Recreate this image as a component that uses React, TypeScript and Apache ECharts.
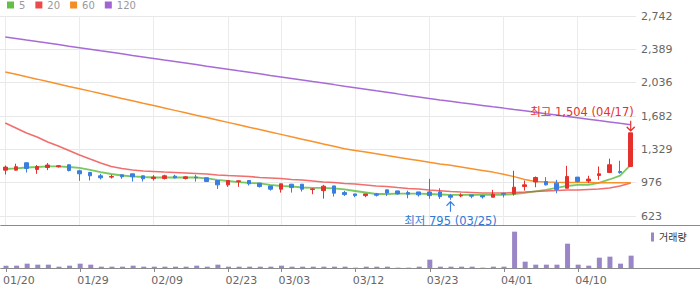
import { useEffect, useRef } from 'react';
import * as echarts from 'echarts';

const dates = ['01/20','01/21','01/22','01/23','01/26','01/27','01/28','01/29','01/30','02/02','02/03','02/04','02/05','02/06','02/09','02/10','02/11','02/12','02/13','02/19','02/20','02/23','02/24','02/25','02/26','02/27','03/03','03/04','03/05','03/06','03/09','03/10','03/11','03/12','03/13','03/16','03/17','03/18','03/19','03/20','03/23','03/24','03/25','03/26','03/27','03/30','03/31','04/01','04/02','04/03','04/06','04/07','04/08','04/09','04/10','04/13','04/14','04/15','04/16','04/17'];
const tickDates = ['01/20','01/29','02/09','02/23','03/03','03/12','03/23','04/01','04/10'];
const yTickLabels = ['623','976','1,329','1,682','2,036','2,389','2,742'];

const opens = [1109,1109,1187,1116,1137,1145,1166,1102,1084,1049,1035,1060,1070,1049,1020,1020,1045,1020,1035,1028,999,953,988,999,971,942,907,960,960,903,892,942,871,857,839,857,900,889,871,878,878,878,839,836,846,839,822,864,857,935,984,988,971,917,1035,994,1052,1084,1095,1148];
const closes = [1141,1145,1127,1148,1163,1155,1105,1070,1049,1028,1042,1038,1038,1017,1035,1049,1028,1038,1028,988,953,999,996,964,935,907,964,924,907,910,939,865,850,839,857,843,868,857,854,847,839,828,822,843,833,825,854,854,928,953,1031,953,903,1042,988,1014,1070,1166,1084,1504];
const lows = [1063,1105,1084,1070,1109,1137,1095,996,999,1010,1020,1017,988,988,999,1010,1020,1010,988,985,910,932,932,946,924,892,871,871,882,854,807,829,835,822,822,829,836,850,811,829,805,804,795,822,811,808,822,820,839,892,928,946,864,917,978,971,1006,1084,1070,1148];
const highs = [1158,1177,1190,1163,1184,1163,1168,1113,1091,1070,1060,1060,1070,1049,1056,1060,1060,1045,1060,1028,999,1003,996,999,971,942,964,960,960,917,953,942,889,857,857,868,900,889,892,878,1017,917,857,864,846,839,900,868,1102,999,1042,1035,1006,1155,1035,1049,1148,1230,1209,1504];
const volumes = [70,70,130,100,100,40,70,130,100,40,40,40,70,40,40,40,40,40,70,40,100,40,40,40,40,40,70,40,40,40,40,40,40,10,40,40,40,10,10,40,250,40,40,40,40,10,40,40,1090,190,100,100,100,730,100,70,310,340,130,370];

const ma5 = [1121,1127,1137,1142,1148,1148,1142,1132,1111,1089,1068,1052,1042,1036,1031,1031,1031,1031,1031,1021,1005,994,983,973,968,952,941,936,925,920,920,915,904,888,872,856,856,861,861,861,856,851,846,846,846,846,846,846,856,867,883,899,920,941,952,952,973,1010,1050,1164];
const ma20 = [1609,1556,1503,1460,1407,1365,1317,1270,1227,1185,1148,1127,1111,1100,1095,1089,1084,1079,1074,1068,1058,1052,1047,1042,1031,1026,1021,1010,1005,994,983,978,968,962,952,941,936,925,915,909,899,891,883,877,872,867,867,867,872,877,883,888,893,899,899,904,909,920,941,973];
const ma60 = [2149,2124,2098,2073,2047,2022,1996,1971,1946,1920,1895,1869,1844,1818,1793,1768,1742,1717,1691,1666,1640,1615,1590,1564,1539,1513,1488,1462,1437,1412,1386,1361,1336,1318,1300,1282,1264,1246,1228,1210,1192,1175,1160,1142,1124,1106,1088,1065,1040,1010,988,982,980,979,978,977,976,976,975,974];
const ma120 = [2520,2504,2487,2471,2455,2439,2422,2406,2390,2373,2357,2341,2324,2308,2292,2275,2259,2243,2227,2210,2194,2178,2161,2145,2129,2112,2096,2080,2064,2047,2031,2015,1998,1982,1966,1949,1933,1917,1900,1884,1868,1853,1839,1824,1810,1795,1780,1766,1751,1737,1722,1707,1693,1678,1664,1649,1634,1620,1605,1591];

const maNames = ['5', '20', '60', '120'];
const maColors = ['#62c044', '#ec4a4a', '#f78c22', '#a263d4'];
const UP = '#e6302c';
const DOWN = '#3a7fe0';
const VOL = '#9a86c6';
const FONT = '"DejaVu Sans", "Noto Sans CJK KR", sans-serif';

const Y_MIN = 623;
const Y_MAX = 2742;
const Y_STEP = (Y_MAX - Y_MIN) / 6;
const PAD_COUNT = 6;

export default function App() {
  const ref = useRef<HTMLDivElement>(null);
  useEffect(() => {
    if (!ref.current) return;
    const chart = echarts.init(ref.current, undefined, { renderer: 'svg' });
    const tickSet = new Set(tickDates);
    const volCats = dates.concat(Array.from({ length: PAD_COUNT }, (_, i) => `pad${i}`));
    const isTick = (_i: number, v: string) => tickSet.has(v);

    let maxIdx = 0;
    let minIdx = 0;
    highs.forEach((h, i) => { if (h > highs[maxIdx]) maxIdx = i; });
    lows.forEach((l, i) => { if (l < lows[minIdx]) minIdx = i; });
    const fmt = (n: number) => n.toLocaleString('en-US');

    const candleData = dates.map((_, i) => [opens[i], closes[i], lows[i], highs[i]]);
    const maData = [ma5, ma20, ma60, ma120];
    const maWidths = [1.8, 1.6, 1.5, 1.5];
    const maOpacity = [0.85, 0.8, 0.95, 0.95];

    chart.setOption({
      animation: false,
      backgroundColor: '#ffffff',
      textStyle: { fontFamily: FONT },
      legend: [
        {
          data: maNames,
          left: 7,
          top: 0,
          padding: 0,
          icon: 'rect',
          itemWidth: 7,
          itemHeight: 7,
          itemGap: 10,
          textStyle: { fontSize: 10, color: '#999', fontFamily: FONT },
        },
        {
          data: ['거래량'],
          left: 651,
          top: 232,
          padding: 0,
          icon: 'rect',
          itemWidth: 3,
          itemHeight: 9,
          textStyle: { fontSize: 10, color: '#333', fontFamily: FONT },
        },
      ],
      grid: [
        { left: 0, right: 64, top: 16, height: 200 },
        { left: 0, right: 0, top: 225, height: 43 },
        { left: 5.3, right: 69.3, top: 16, height: 209 },
      ],
      xAxis: [
        { type: 'category', gridIndex: 0, data: dates, boundaryGap: true, show: false },
        {
          type: 'category', gridIndex: 2, data: dates, boundaryGap: false,
          axisLine: { show: false }, axisTick: { show: false }, axisLabel: { show: false },
          splitLine: { show: true, interval: isTick, lineStyle: { color: '#ebebeb', width: 1 } },
        },
        {
          type: 'category', gridIndex: 1, data: volCats, boundaryGap: true, position: 'bottom',
          axisLine: { show: true, lineStyle: { color: '#8a8a8a', width: 1 } },
          axisTick: { show: true, alignWithLabel: true, interval: isTick, length: 4, lineStyle: { color: '#8a8a8a' } },
          axisLabel: {
            show: true, interval: isTick, color: '#666', fontSize: 11, margin: 7,
            align: 'left', padding: [0, 0, 0, -3], fontFamily: FONT,
          },
          splitLine: { show: false },
        },
        {
          type: 'category', gridIndex: 1, data: volCats, boundaryGap: true, position: 'top',
          axisLine: { show: true, lineStyle: { color: '#8a8a8a', width: 1 } },
          axisTick: { show: false }, axisLabel: { show: false }, splitLine: { show: false },
        },
      ],
      yAxis: [
        {
          type: 'value', gridIndex: 0, position: 'right', min: Y_MIN, max: Y_MAX, interval: Y_STEP,
          axisLine: { show: false }, axisTick: { show: false },
          axisLabel: {
            color: '#666', fontSize: 11, margin: 5, fontFamily: FONT,
            formatter: (v: number) => yTickLabels[Math.round((v - Y_MIN) / Y_STEP)] ?? '',
          },
          splitLine: { show: true, lineStyle: { color: '#e8e8e8', width: 1 } },
        },
        { type: 'value', gridIndex: 2, min: 0, max: 1, show: false },
        { type: 'value', gridIndex: 1, min: 0, max: 1290, show: false },
      ],
      series: [
        ...maNames.map((name, k) => ({
          name,
          type: 'line',
          xAxisIndex: 0,
          yAxisIndex: 0,
          data: maData[k],
          symbol: 'none',
          z: 2,
          itemStyle: { color: maColors[k] },
          lineStyle: { color: maColors[k], width: maWidths[k], opacity: maOpacity[k] },
        })),
        {
          name: 'candle',
          type: 'candlestick',
          xAxisIndex: 0,
          yAxisIndex: 0,
          data: candleData,
          barWidth: 4,
          z: 3,
          itemStyle: { color: UP, color0: DOWN, borderColor: UP, borderColor0: DOWN, borderWidth: 1 },
          markPoint: {
            silent: true,
            data: [
              {
                coord: [maxIdx, highs[maxIdx]],
                symbol: 'path://M4,0 L4,10 M0,6 L4,10 L8,6',
                symbolSize: [8, 10],
                symbolOffset: [0, -7],
                itemStyle: { color: 'none', borderColor: UP, borderWidth: 1.3 },
                label: {
                  show: true, position: 'top', distance: 0, align: 'right', offset: [3, 0],
                  color: UP, fontSize: 11.5, fontFamily: FONT,
                  formatter: () => `최고 ${fmt(highs[maxIdx])} (${dates[maxIdx]})`,
                },
              },
              {
                coord: [minIdx, lows[minIdx]],
                symbol: 'path://M4,10 L4,0 M0,4 L4,0 L8,4',
                symbolSize: [8, 10],
                symbolOffset: [0, 7],
                itemStyle: { color: 'none', borderColor: DOWN, borderWidth: 1.3 },
                label: {
                  show: true, position: 'bottom', distance: 1, align: 'center',
                  color: '#2f7ad6', fontSize: 11.5, fontFamily: FONT,
                  formatter: () => `최저 ${fmt(lows[minIdx])} (${dates[minIdx]})`,
                },
              },
            ],
          },
        },
        {
          name: '거래량',
          type: 'bar',
          xAxisIndex: 2,
          yAxisIndex: 2,
          data: volumes,
          barWidth: 5,
          itemStyle: { color: VOL },
        },
      ],
    });
    return () => chart.dispose();
  }, []);
  return <div ref={ref} style={{ position: 'fixed', left: 0, top: 0, width: 700, height: 289 }} />;
}
